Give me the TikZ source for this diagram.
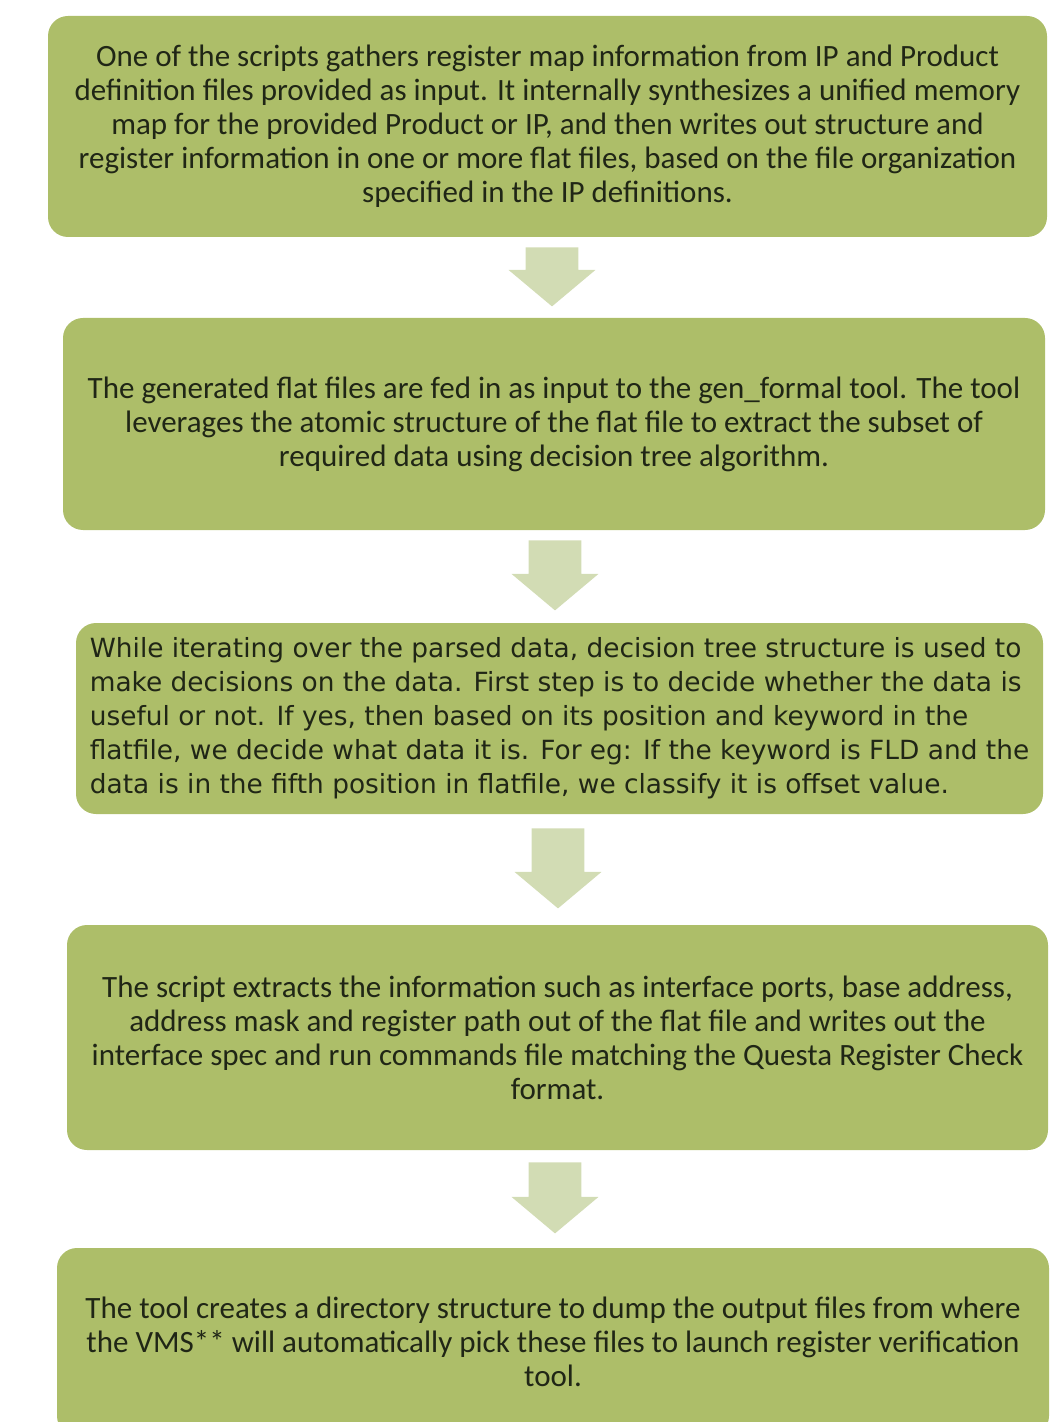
\documentclass[tikz,border=0pt]{standalone}
\usepackage{fontspec}
\setmainfont{Carlito}
\newfontfamily\widefont{DejaVu Sans}
\usetikzlibrary{shapes.arrows}
\definecolor{boxgreen}{RGB}{173,190,105}
\definecolor{arrowgreen}{RGB}{210,220,180}
\definecolor{textdark}{RGB}{32,38,22}

\begin{document}
\begin{tikzpicture}
	[x=0.5pt,y=-0.5pt,every node/.style={inner sep=0pt,text=textdark},
	 box/.style={rectangle,rounded corners=10pt,fill=boxgreen,align=center,font=\fontsize{15.5}{17}\selectfont},
	 down/.style={single arrow,shape border rotate=270,anchor=tail,fill=arrowgreen,inner xsep=13pt,inner ysep=0pt,single arrow tip angle=100,single arrow head extend=8.5pt,minimum width=43pt}]
	\useasboundingbox (0,0) rectangle (1049,1422);

	\node[box,minimum width=499.5pt,minimum height=110.5pt] (s1) at (547.5,126.5)
		{One of the scripts gathers register map information from IP and Product\\
		definition files provided as input. It internally synthesizes a unified memory\\
		map for the provided Product or IP, and then writes out structure and\\
		register information in one or more flat files, based on the file organization\\
		specified in the IP definitions.};
	\node[box,minimum width=491pt,minimum height=106pt] (s2) at (554,424)
		{The generated flat files are fed in as input to the gen\_formal tool. The tool\\
		leverages the atomic structure of the flat file to extract the subset of\\
		required data using decision tree algorithm.};
	\node[box,align=left,minimum width=483.5pt,minimum height=95.5pt,
		font=\widefont\fontsize{13.2}{17}\selectfont] (s3) at (559.5,718.5)
		{While iterating over the parsed data, decision tree structure is used to\\
		make decisions on the data. First step is to decide whether the data is\\
		useful or not. If yes, then based on its position and keyword in the\\
		flatfile, we decide what data it is. For eg: If the keyword is FLD and the\\
		data is in the fifth position in flatfile, we classify it is offset value.};
	\node[box,minimum width=490.5pt,minimum height=112.5pt] (s4) at (557.5,1037.5)
		{The script extracts the information such as interface ports, base address,\\
		address mask and register path out of the flat file and writes out the\\
		interface spec and run commands file matching the Questa Register Check\\
		format.};
	\node[box,minimum width=496pt,minimum height=94pt] (s5) at (553,1342)
		{The tool creates a directory structure to dump the output files from where\\
		the VMS** will automatically pick these files to launch register verification\\
		tool.};

	\node[down,minimum height=29.5pt] (a1) at (552,247) {};
	\node[down,minimum height=35pt] (a2) at (555,540) {};
	\node[down,minimum height=40pt] (a3) at (558,828) {};
	\node[down,minimum height=35.5pt] (a4) at (555,1162) {};
\end{tikzpicture}
\end{document}
